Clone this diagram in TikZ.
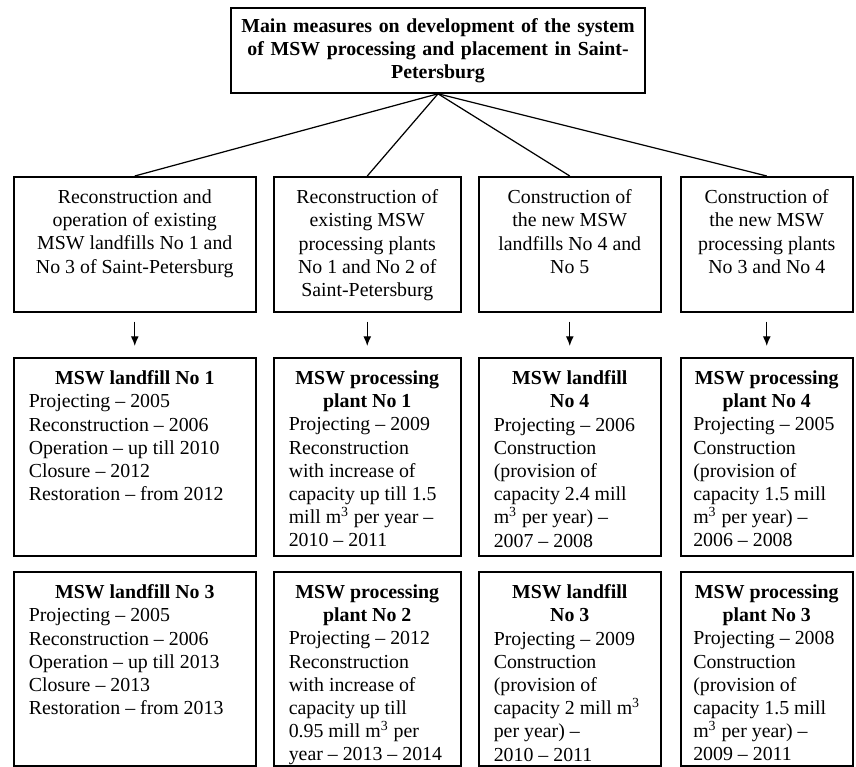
\documentclass[tikz,border=0pt]{standalone}
\usepackage{fontspec}
\setmainfont{Liberation Serif}
\usepackage{tikz}
\usetikzlibrary{arrows.meta}
\newcommand{\mswbox}[3]{\begin{minipage}[t][#2][t]{#1}#3\end{minipage}}

\begin{document}
\begin{tikzpicture}[x=0.02cm, y=-0.02cm,
        box/.style={draw, line width=0.9pt, anchor=north west, inner xsep=0.3cm,
        inner ysep=0.26cm, font=\fontsize{11.3}{13.2}\selectfont},
        head/.style={draw, line width=0.9pt, align=center, text width=7.9cm,
        minimum height=1.7cm, inner xsep=0.19cm,
        font=\fontsize{11.3}{13.2}\selectfont\bfseries},
        link/.style={line width=0.7pt},
        arr/.style={-{Latex[length=5.5pt,width=4.5pt]}, line width=0.7pt,
        shorten <=0.18cm, shorten >=0.22cm}]
        \useasboundingbox (0,0) rectangle (856,767);
        \node[head] (main) at (438,50.5) {Main measures on development of the system\\
        of MSW processing and placement in Saint-\\ Petersburg};
        \node[box] (r1a) at (13,176) {\mswbox{4.24cm}{2.18cm}{\centering
        Reconstruction and\\ operation of existing\\ MSW landfills No 1 and\\
        No 3 of Saint-Petersburg}};
        \node[box] (r1b) at (273,176) {\mswbox{3.14cm}{2.18cm}{\centering
        Reconstruction of\\ existing MSW\\ processing plants\\ No 1 and No 2 of\\
        Saint-Petersburg}};
        \node[box] (r1c) at (478,176) {\mswbox{3.04cm}{2.18cm}{\centering
        Construction of\\ the new MSW\\ landfills No 4 and\\ No 5}};
        \node[box] (r1d) at (680,176) {\mswbox{2.84cm}{2.18cm}{\centering
        Construction of\\ the new MSW\\ processing plants\\ No 3 and No 4}};
        \node[box] (r2a) at (13,357) {\mswbox{4.24cm}{3.44cm}{{\centering\bfseries
        MSW landfill No 1\par}\raggedright Projecting -- 2005\\
        Reconstruction -- 2006\\ Operation -- up till 2010\\ Closure -- 2012\\
        Restoration -- from 2012}};
        \node[box] (r2b) at (273,357) {\mswbox{3.14cm}{3.44cm}{{\centering\bfseries
        MSW processing\\ plant No 1\par}\raggedright Projecting -- 2009\\
        Reconstruction\\ with increase of\\ capacity up till 1.5\\
        mill m\textsuperscript{3} per year --\\ 2010 -- 2011}};
        \node[box] (r2c) at (478,357) {\mswbox{3.04cm}{3.44cm}{{\centering\bfseries
        MSW landfill\\ No 4\par}\raggedright Projecting -- 2006\\ Construction\\
        (provision of\\ capacity 2.4 mill\\ m\textsuperscript{3} per year) --\\
        2007 -- 2008}};
        \node[box, inner xsep=0.25cm] (r2d) at (680,357) {\mswbox{2.94cm}{3.44cm}{{\centering\bfseries
        MSW processing\\ plant No 4\par}\raggedright Projecting -- 2005\\
        Construction\\ (provision of\\ capacity 1.5 mill\\
        m\textsuperscript{3} per year) --\\ 2006 -- 2008}};
        \node[box] (r3a) at (13,571) {\mswbox{4.24cm}{3.36cm}{{\centering\bfseries
        MSW landfill No 3\par}\raggedright Projecting -- 2005\\
        Reconstruction -- 2006\\ Operation -- up till 2013\\ Closure -- 2013\\
        Restoration -- from 2013}};
        \node[box] (r3b) at (273,571) {\mswbox{3.14cm}{3.36cm}{{\centering\bfseries
        MSW processing\\ plant No 2\par}\raggedright Projecting -- 2012\\
        Reconstruction\\ with increase of\\ capacity up till\\
        0.95 mill m\textsuperscript{3} per\\ year -- 2013 -- 2014}};
        \node[box] (r3c) at (478,571) {\mswbox{3.04cm}{3.36cm}{{\centering\bfseries
        MSW landfill\\ No 3\par}\raggedright Projecting -- 2009\\ Construction\\
        (provision of\\ capacity 2 mill m\textsuperscript{3}\\ per year) --\\
        2010 -- 2011}};
        \node[box, inner xsep=0.25cm] (r3d) at (680,571) {\mswbox{2.94cm}{3.36cm}{{\centering\bfseries
        MSW processing\\ plant No 3\par}\raggedright Projecting -- 2008\\
        Construction\\ (provision of\\ capacity 1.5 mill\\
        m\textsuperscript{3} per year) --\\ 2009 -- 2011}};
        \foreach \c in {a,b,c,d}
        \draw[link] (main.south) -- (r1\c.north);
        \foreach \c in {a,b,c,d}
        \draw[arr] (r1\c) -- (r2\c);
    \end{tikzpicture}
\end{document}
